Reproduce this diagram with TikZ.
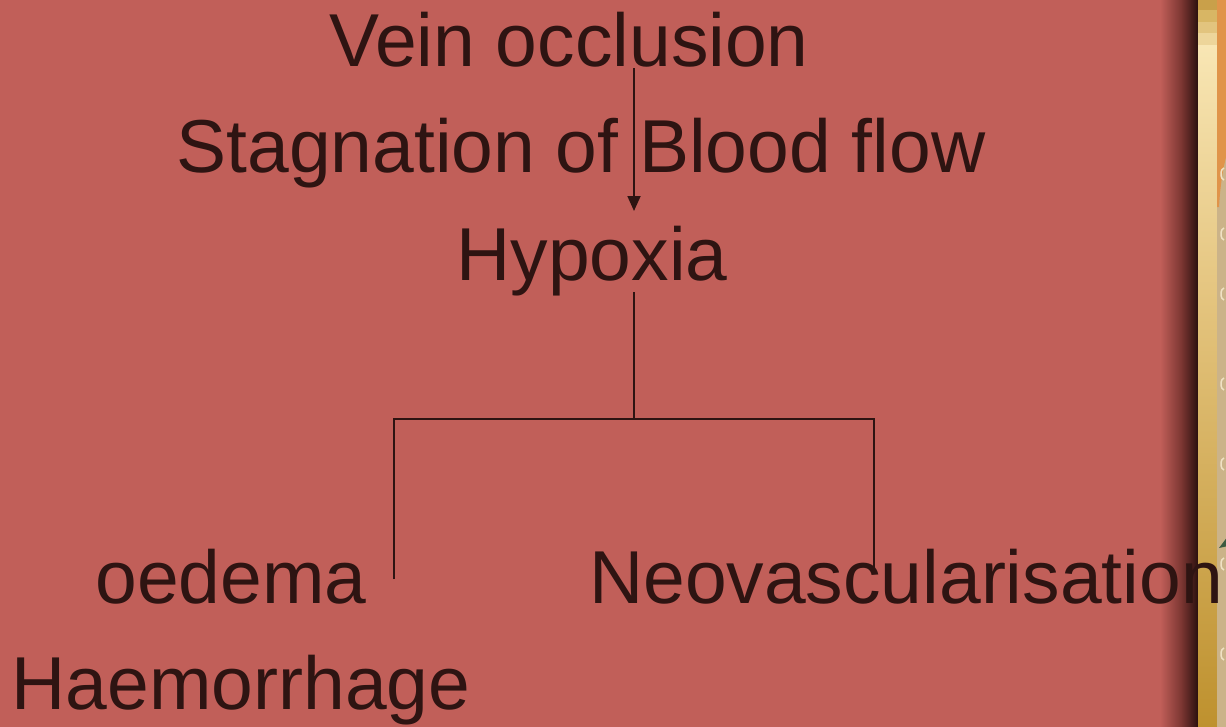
\documentclass[tikz,border=0pt]{standalone}
\usepackage{fontspec}
\setmainfont{Liberation Sans}
\usetikzlibrary{arrows.meta}
\definecolor{bg}{RGB}{193,95,89}
\definecolor{ink}{RGB}{46,20,18}
\definecolor{edgedark}{RGB}{40,16,14}
\definecolor{edgemid}{RGB}{120,52,48}
\definecolor{goldtop}{RGB}{248,230,180}
\definecolor{goldmid}{RGB}{228,196,126}
\definecolor{goldbot}{RGB}{190,145,46}
\definecolor{orangeband}{RGB}{224,148,74}
\definecolor{beige}{RGB}{203,179,137}
\definecolor{cream}{RGB}{240,226,196}
\definecolor{leaf}{RGB}{60,90,64}
\begin{document}
\begin{tikzpicture}[x=1pt,y=-1pt,
  lbl/.style={anchor=base, inner sep=0pt, text=ink, font=\fontsize{75}{80}\selectfont},
  conn/.style={draw=ink, line width=1.8pt}]
\useasboundingbox (0,0) rectangle (1226,726);
% background
\fill[bg] (-2,-2) rectangle (1228,728);
% right edge decoration
\shade[left color=bg, right color=edgemid] (1160,-2) rectangle (1182.5,728);
\shade[left color=edgemid, right color=edgedark] (1182,-2) rectangle (1198.5,728);
\fill[goldmid] (1198,-2) rectangle (1217,728);
\shade[top color=goldtop, bottom color=goldmid] (1198,45) rectangle (1217,300.5);
\shade[top color=goldmid, bottom color=goldbot] (1198,300) rectangle (1217,728);
\fill[fill={rgb,255:red,201;green,160;blue,74}] (1198,-2) rectangle (1217,10);
\fill[fill={rgb,255:red,216;green,182;blue,100}] (1198,10) rectangle (1217,22);
\fill[fill={rgb,255:red,226;green,196;blue,126}] (1198,22) rectangle (1217,33);
\fill[fill={rgb,255:red,237;green,213;blue,154}] (1198,33) rectangle (1217,45);
\fill[beige] (1217,-2) rectangle (1228,728);
\fill[orangeband] (1217,-2) -- (1228,-2) -- (1228,150) .. controls (1222,170) and (1220,190) .. (1219,207) -- (1217,207) -- cycle;
\fill[leaf] (1219,548) -- (1228,536) -- (1228,546) -- cycle;
\foreach \yy in {180,240,300,390,470,570,660} {
  \draw[cream, line width=1.5pt] (1224,\yy) arc (90:270:3 and 6);
}
% texts
\node[lbl] (vein) at (569,66) {Vein occlusion};
\node[lbl] (stag) at (581,172) {Stagnation of Blood flow};
\node[lbl] (hyp) at (592,280) {Hypoxia};
\node[lbl] (oed) at (231,603) {oedema};
\node[lbl, anchor=base west] (neo) at (589,603) {Neovascularisation};
\node[lbl] (haem) at (241,709) {Haemorrhage};
% connectors
\coordinate (arrS) at (634,68);
\coordinate (arrE) at (634,211);
\coordinate (hypB) at (634,292);
\coordinate (junc) at (634,419);
\coordinate (leftT) at (394,419);
\coordinate (leftB) at (394,579);
\coordinate (rightT) at (874,419);
\coordinate (rightB) at (874,574);
\draw[conn, -{Triangle[width=13pt,length=15pt]}] (arrS) -- (arrE);
\draw[conn] (hypB) -- (junc);
\draw[conn] (leftB) -- (leftT) -- (rightT) -- (rightB);
\end{tikzpicture}
\end{document}
